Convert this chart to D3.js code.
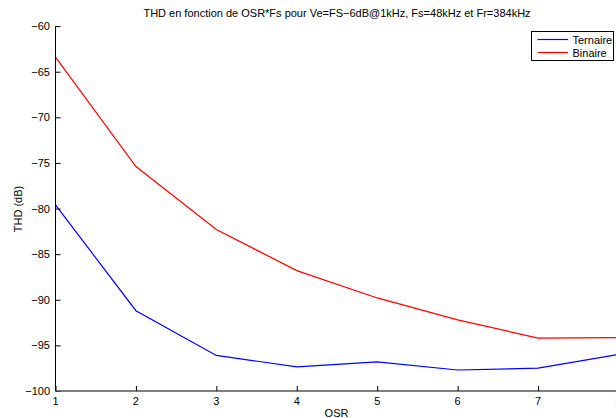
<!DOCTYPE html>
<html><head><meta charset="utf-8">
<script src="https://cdn.jsdelivr.net/npm/d3@7"></script>
<style>body{margin:0;background:#fff}svg{display:block}text{font-family:"Liberation Sans",Arial,sans-serif;fill:#000}</style>
</head><body>
<svg id="c" width="616" height="418"></svg>
<script>
const osr = [1,2,3,4,5,6,7,8];
const ternaire = [-79.6,-91.2,-96.1,-97.35,-96.8,-97.7,-97.5,-96.0];
const binaire = [-63.4,-75.4,-82.3,-86.8,-89.8,-92.2,-94.2,-94.15];
const yTicks = [-60,-65,-70,-75,-80,-85,-90,-95,-100];
const xTicks = [1,2,3,4,5,6,7,8];
const title = "THD en fonction de OSR*Fs pour Ve=FS\u22126dB@1kHz, Fs=48kHz et Fr=384kHz";

const svg = d3.select("#c");
const x = d3.scaleLinear().domain([1,8]).range([55.5,618.5]);
const y = d3.scaleLinear().domain([-100,-60]).range([391,26.1]);
const fmt = d => String(d).replace("-","\u2212");

// lines
const line = d3.line().x((d,i)=>x(osr[i])).y(d=>y(d));
svg.append("path").datum(ternaire).attr("d",line).attr("fill","none").attr("stroke","#0000ff").attr("stroke-width",1.2);
svg.append("path").datum(binaire).attr("d",line).attr("fill","none").attr("stroke","#ff0000").attr("stroke-width",1.2);

// y axis
const ya = svg.append("g").attr("transform","translate(55.5,0)")
  .call(d3.axisRight(y).tickValues(yTicks).tickSize(5).tickFormat(""));
ya.select(".domain").attr("d","M0,26.1V391").attr("stroke","#000");
ya.selectAll(".tick line").attr("stroke","#000");
yTicks.forEach(t=>{
  svg.append("text").attr("x",50).attr("y",y(t)+4).attr("text-anchor","end").attr("font-size",11).text(fmt(t));
});

// x axis
const xa = svg.append("g").attr("transform","translate(0,391)")
  .call(d3.axisTop(x).tickValues(xTicks).tickSize(5).tickFormat(""));
xa.select(".domain").attr("d","M55.5,0H618.5").attr("stroke","#555").attr("stroke-width",1.5);
xa.selectAll(".tick line").attr("stroke","#000");
xTicks.forEach(t=>{
  svg.append("text").attr("x",x(t)).attr("y",405).attr("text-anchor","middle").attr("font-size",11).text(t);
});

// labels
svg.append("text").attr("x",336.5).attr("y",417).attr("text-anchor","middle").attr("font-size",11).text("OSR");
svg.append("text").attr("transform","translate(22,209) rotate(-90)").attr("text-anchor","middle").attr("font-size",11).text("THD (dB)");
svg.append("text").attr("x",337).attr("y",17).attr("text-anchor","middle").attr("font-size",11).text(title);

// legend
const lg = svg.append("g");
lg.append("rect").attr("x",531.5).attr("y",31.5).attr("width",82).attr("height",29).attr("fill","#fff").attr("stroke","#000");
[["Ternaire","#0000ff",39.5],["Binaire","#ff0000",52.5]].forEach(([n,c,yy])=>{
  lg.append("line").attr("x1",537.5).attr("x2",568).attr("y1",yy).attr("y2",yy).attr("stroke",c).attr("stroke-width",1.2);
  lg.append("text").attr("x",572.5).attr("y",yy+4).attr("font-size",11).text(n);
});
</script>
</body></html>
